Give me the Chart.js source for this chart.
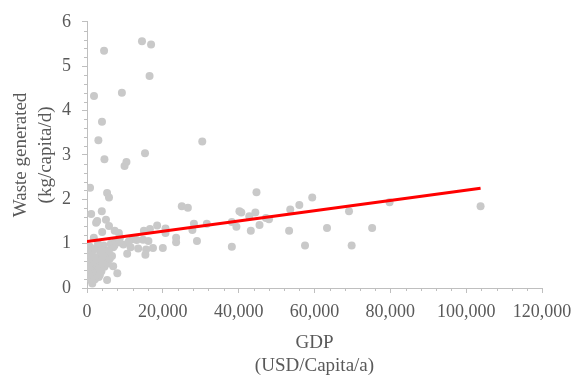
<!DOCTYPE html>
<html>
<head>
<meta charset="utf-8">
<script src="https://cdn.jsdelivr.net/npm/chart.js@4/dist/chart.umd.min.js"></script>
<style>
  html, body { margin: 0; padding: 0; background: #ffffff; }
  #wrap { width: 583px; height: 376px; position: relative; }
</style>
</head>
<body>
<div id="wrap"><canvas id="c" width="583" height="376"></canvas></div>
<script>
// GDP (USD/capita/a)
const gdp = [
  4500, 14500, 16900, 16500, 1850, 9200, 3950, 3000, 4600, 15300,
  10400, 9900, 30400, 800, 5300, 5800, 25000, 26600, 44700, 59400,
  79800, 103800,
  28200, 27800, 29000, 31600, 38200, 39400, 38200, 40200, 40700, 43200,
  42800, 44400, 45500, 47200, 48000, 53300, 53600, 56000, 57500, 63300,
  69100, 69800, 75200,
  18500, 16600, 15000, 20700, 20700, 23500, 23500, 14800, 16200, 13100,
  15600, 17400, 20000, 15400, 13500,
  1100, 3900, 2400, 2700, 5000, 5800, 4000, 1800, 7300, 8400,
  8700, 800, 9600, 8500, 6900, 10600, 11500, 12000, 11000,
  300, 500, 600, 800, 900, 1000, 1100, 1200, 1400, 1500,
  1600, 1800, 2000, 2100, 2300, 2500, 2600, 2800, 3000, 3100,
  3300, 3500, 3600, 3800, 4000, 4200, 4400, 4600, 4800, 5000,
  5300, 5500, 5800, 6000, 6300, 6600, 6900, 7200, 7500, 8000,
  8500, 400, 700, 1300, 2200, 2900, 3400, 200, 1900, 3900
];
// Waste generated (kg/capita/d)
const waste = [
  5.35, 5.56, 5.49, 4.78, 4.33, 4.40, 3.75, 3.33, 2.90, 3.04,
  2.84, 2.75, 3.30, 2.26, 2.14, 2.04, 1.84, 1.81, 2.16, 2.04,
  1.93, 1.84,
  1.45, 1.31, 1.06, 1.45, 1.49, 1.38, 0.93, 1.73, 1.70, 1.29,
  1.62, 1.70, 1.42, 1.58, 1.55, 1.29, 1.77, 1.87, 0.96, 1.35,
  1.73, 0.96, 1.35,
  1.41, 1.33, 1.29, 1.34, 1.24, 1.13, 1.03, 1.09, 1.06, 1.08,
  0.87, 0.90, 0.90, 0.75, 0.89,
  1.67, 1.73, 1.47, 1.51, 1.54, 1.40, 1.26, 1.13, 1.29, 1.24,
  1.14, 0.93, 0.98, 1.03, 0.92, 0.77, 0.92, 1.10, 1.05,
  0.55, 0.35, 0.25, 0.45, 0.60, 0.18, 0.30, 0.50, 0.10, 0.40,
  0.65, 0.28, 0.55, 0.20, 0.42, 0.62, 0.35, 0.50, 0.70, 0.25,
  0.45, 0.60, 0.80, 0.38, 0.55, 0.68, 0.96, 0.48, 0.62, 0.75,
  0.18, 0.55, 0.85, 0.66, 1.00, 0.72, 0.49, 0.95, 1.05, 0.33,
  1.03, 0.75, 0.90, 0.82, 0.88, 1.00, 0.30, 0.42, 0.70, 0.85
];
// Linear trend line end points
const trendX = [0, 103800];
const trendY = [1.05, 2.25];

const xTicks = [0, 20000, 40000, 60000, 80000, 100000, 120000];
const yTicks = [0, 1, 2, 3, 4, 5, 6];

const AXIS = '#bfbfbf';
const TXT = '#595959';
const FONT = "'Liberation Serif', 'Times New Roman', serif";

const minorTicks = {
  id: 'minorTicks',
  afterDraw(chart) {
    const { ctx, scales: { x, y } } = chart;
    ctx.save();
    ctx.strokeStyle = AXIS;
    ctx.lineWidth = 1;
    for (let i = 0; i <= 30; i++) {
      if (i % 5 === 0) continue;
      const px = Math.round(x.getPixelForValue(i * 4000)) + 0.5;
      ctx.beginPath(); ctx.moveTo(px, y.bottom); ctx.lineTo(px, y.bottom + 3); ctx.stroke();
      const py = Math.round(y.getPixelForValue(i / 5)) + 0.5;
      ctx.beginPath(); ctx.moveTo(x.left, py); ctx.lineTo(x.left - 3, py); ctx.stroke();
    }
    ctx.restore();
  }
};

new Chart(document.getElementById('c'), {
  type: 'scatter',
  data: {
    datasets: [
      {
        type: 'line',
        data: trendX.map((v, i) => ({ x: v, y: trendY[i] })),
        borderColor: '#ff0000',
        borderWidth: 3,
        pointRadius: 0,
        fill: false
      },
      {
        data: gdp.map((v, i) => ({ x: v, y: waste[i] })),
        backgroundColor: '#c9c9c9',
        borderColor: '#c9c9c9',
        borderWidth: 0,
        pointRadius: 4
      }
    ]
  },
  options: {
    responsive: false,
    animation: false,
    layout: { padding: { left: 0, right: 41, top: 18, bottom: 0 } },
    plugins: { legend: { display: false }, tooltip: { enabled: false } },
    scales: {
      x: {
        type: 'linear',
        min: 0, max: 120000,
        afterFit: s => { s.height = 88; },
        afterBuildTicks: s => { s.ticks = xTicks.map(v => ({ value: v })); },
        border: { color: AXIS, width: 1 },
        grid: { drawOnChartArea: false, drawTicks: true, tickLength: 5, color: AXIS, tickColor: AXIS },
        ticks: {
          color: TXT, font: { family: FONT, size: 18 }, padding: 8,
          maxRotation: 0, minRotation: 0, autoSkip: false,
          callback: v => v.toLocaleString('en-US')
        },
        title: {
          display: true, text: ['GDP', '(USD/Capita/a)'], color: TXT,
          font: { family: FONT, size: 19, lineHeight: 1.23 }, padding: { top: 0, bottom: -2 }
        }
      },
      y: {
        type: 'linear',
        min: 0, max: 6,
        afterFit: s => { s.width = 87; },
        afterBuildTicks: s => { s.ticks = yTicks.map(v => ({ value: v })); },
        border: { color: AXIS, width: 1 },
        grid: { drawOnChartArea: false, drawTicks: true, tickLength: 5, color: AXIS, tickColor: AXIS },
        ticks: { color: TXT, font: { family: FONT, size: 18 }, padding: 11 },
        title: {
          display: true, text: ['Waste generated', '(kg/capita/d)'], color: TXT,
          font: { family: FONT, size: 19, lineHeight: 1.32 }, padding: { top: 8, bottom: 0 }
        }
      }
    }
  },
  plugins: [minorTicks]
});
</script>
</body>
</html>
